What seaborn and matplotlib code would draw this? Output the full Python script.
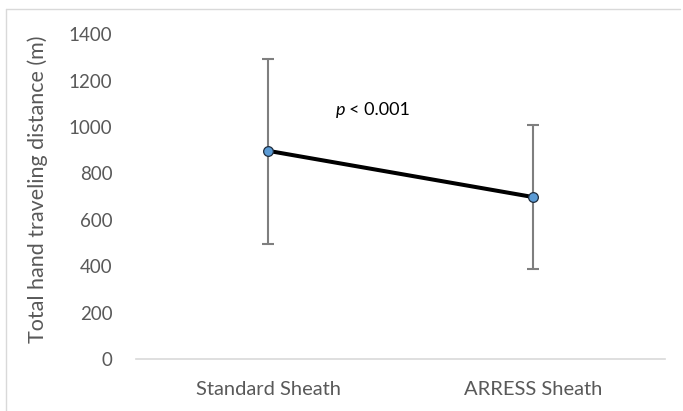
import numpy as np
import pandas as pd
import matplotlib
matplotlib.use("Agg")
import matplotlib.pyplot as plt
import seaborn as sns
from matplotlib.lines import Line2D

# values
groups = ["Standard Sheath", "ARRESS Sheath"]
means = [897, 698]
err_low = [497, 386]
err_high = [1291, 1008]
y_ticks = [0, 200, 400, 600, 800, 1000, 1200, 1400]

sns.set_style("white")
plt.rcParams["font.family"] = ["Lato", "DejaVu Sans"]

df = pd.DataFrame({"group": groups, "distance": means})

fig = plt.figure(figsize=(6.83, 4.11), dpi=100)
ax = fig.add_axes([0.199, 0.1265, 0.775, 0.7905])

pos = np.arange(len(groups))
lower = np.array(means) - np.array(err_low)
upper = np.array(err_high) - np.array(means)
ax.errorbar(pos, means, yerr=[lower, upper], fmt="none", ecolor="#7f7f7f",
            elinewidth=1.5, capsize=4.5, capthick=1.5, zorder=2)

sns.lineplot(data=df, x="group", y="distance", sort=False, color="black",
             linewidth=2.9, marker="o", markersize=7, markerfacecolor="#5b9bd5",
             markeredgecolor="#1f2d3d", markeredgewidth=0.9, ax=ax, zorder=3)

ax.text(0.255, 1073, "p", style="italic", fontsize=13, va="center", ha="left", color="black")
ax.text(0.305, 1073, "< 0.001", fontsize=13, va="center", ha="left", color="black")

ax.set_xlim(-0.5, 1.5)
ax.set_ylim(0, 1400)
ax.set_yticks(y_ticks)
ax.set_xticks(pos)
ax.set_xticklabels(groups)
ax.tick_params(axis="y", length=0, labelsize=13.5, colors="#595959", pad=17)
ax.tick_params(axis="x", length=0, labelsize=14.5, colors="#595959", pad=16)
ax.set_xlabel("")
ax.set_ylabel("Total hand traveling distance (m)", fontsize=15.5, color="#595959")
ax.yaxis.set_label_coords(-0.166, 0.523)

for s in ["top", "right", "left"]:
    ax.spines[s].set_visible(False)
ax.spines["bottom"].set_color("#d9d9d9")
ax.spines["bottom"].set_linewidth(1.2)

# light frame around the chart area
fig.add_artist(Line2D([0.009, 0.995], [0.978, 0.978], color="#d9d9d9", lw=1, transform=fig.transFigure))
fig.add_artist(Line2D([0.009, 0.009], [0.0, 0.978], color="#d9d9d9", lw=1, transform=fig.transFigure))

fig.savefig("out.png", dpi=100)
